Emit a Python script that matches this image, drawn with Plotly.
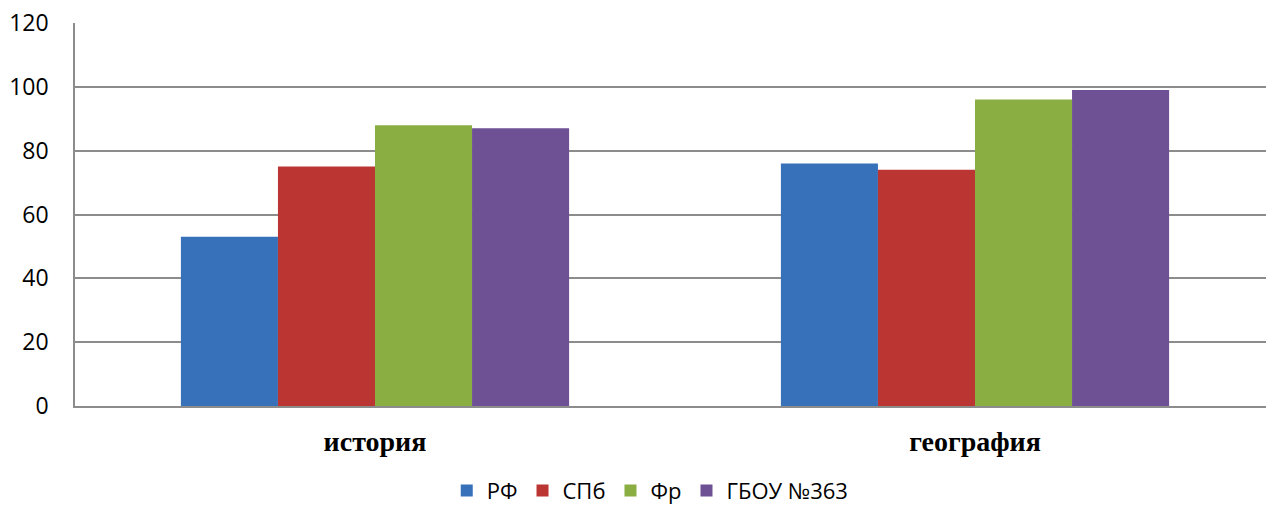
import plotly.graph_objects as go

# Data
categories = ['история', 'география']
series_names = ['РФ', 'СПб', 'Фр', 'ГБОУ №363']
rf = [53, 76]
spb = [75, 74]
fr = [88, 96]
gbou = [87, 99]
colors = ['#3671BA', '#BB3532', '#8BAE42', '#6E5095']

fig = go.Figure()
for name, vals, c in zip(series_names, [rf, spb, fr, gbou], colors):
    fig.add_trace(go.Bar(
        x=categories, y=vals, name=name,
        marker=dict(color=c, line=dict(width=0)),
    ))

# plot area runs a little past the right edge of the window, as in the original
fig.update_layout(
    width=1275, height=510,
    barmode='group', bargap=0.353, bargroupgap=0,
    paper_bgcolor='white', plot_bgcolor='white',
    margin=dict(l=75, r=0, t=23, b=104),
    font=dict(family='Open Sans, Liberation Sans, sans-serif', color='#000000'),
    legend=dict(
        orientation='h', xref='container', x=0.51, xanchor='center',
        yref='container', y=0.038, yanchor='middle',
        font=dict(size=22), itemwidth=30, traceorder='normal',
    ),
)
fig.update_yaxes(
    range=[0, 120], dtick=20, showgrid=True, gridcolor='#8C8C8C', gridwidth=1.5,
    showline=True, linecolor='#8C8C8C', linewidth=1.5,
    tickfont=dict(size=23, family='Open Sans, Liberation Sans, sans-serif'),
    ticks='', ticklabelstandoff=20, zeroline=False,
)
fig.update_xaxes(
    showline=True, linecolor='#8C8C8C', linewidth=1.5, ticks='',
    tickfont=dict(size=28, family='Liberation Serif, Times New Roman, serif', weight='bold'),
    ticklabelstandoff=10,
)

fig.write_html(
    'out.html',
    config={'displayModeBar': False},
    post_script=("document.body.style.margin='0';document.body.style.overflow='hidden';"
                 "document.documentElement.style.overflow='hidden';"),
)
